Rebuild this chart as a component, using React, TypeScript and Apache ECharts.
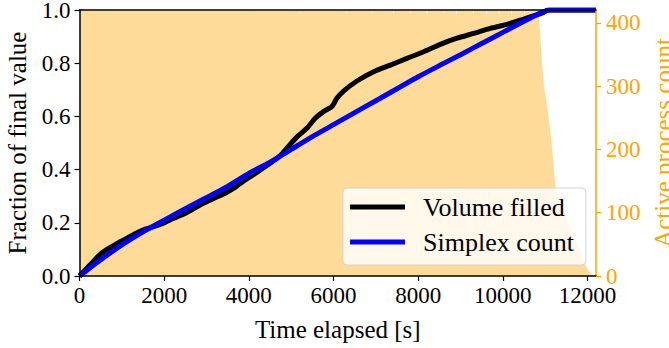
import React, { useEffect, useRef } from "react";
import * as echarts from "echarts";

// ---- Data ----
const xTicks = [0, 2000, 4000, 6000, 8000, 10000, 12000];
const rightTicks = [0, 100, 200, 300, 400];

// Volume filled (black)
const volumeT = [0, 150, 300, 468, 650, 863, 1100, 1300, 1494, 1700, 1967, 2200, 2450, 2676, 2950, 3227, 3450, 3700, 3858, 4100, 4331, 4645, 4800, 4976, 5150, 5370, 5567, 5764, 5961, 6079, 6237, 6553, 6947, 7340, 7734, 8128, 8522, 8917, 9310, 9704, 10098, 10491, 10800, 10965, 11060, 12200];
const volumeV = [0, 0.025, 0.05, 0.079, 0.1, 0.12, 0.14, 0.158, 0.173, 0.183, 0.198, 0.215, 0.232, 0.251, 0.275, 0.296, 0.312, 0.336, 0.355, 0.38, 0.405, 0.44, 0.462, 0.495, 0.525, 0.555, 0.593, 0.618, 0.637, 0.668, 0.695, 0.733, 0.768, 0.793, 0.818, 0.843, 0.871, 0.894, 0.912, 0.931, 0.946, 0.966, 0.982, 0.991, 1.0, 1.0];

// Simplex count (blue)
const simplexT = [0, 350, 700, 1100, 1500, 1900, 2300, 2700, 3100, 3500, 4000, 4500, 5000, 5500, 6000, 6500, 7000, 7500, 8000, 8500, 9000, 9500, 10000, 10500, 10800, 10950, 11100, 12200];
const simplexV = [0, 0.043, 0.084, 0.127, 0.166, 0.201, 0.236, 0.27, 0.303, 0.337, 0.386, 0.428, 0.476, 0.524, 0.569, 0.614, 0.659, 0.704, 0.749, 0.791, 0.832, 0.874, 0.916, 0.958, 0.982, 0.993, 1.0, 1.0];

// Active process count (orange fill)
const procT = [0, 1000, 2000, 3000, 4000, 5000, 5200, 5210, 5220, 6000, 6300, 6310, 6320, 6900, 6910, 6920, 7400, 7410, 7420, 7800, 7810, 7820, 8200, 8210, 8220, 8600, 8610, 8620, 8900, 8910, 8920, 9300, 9310, 9320, 9600, 9610, 9620, 9900, 9910, 9920, 10200, 10210, 10220, 10500, 10510, 10520, 10700, 10710, 10720, 10840, 10870, 10920, 10970, 11030, 11090, 11145, 11200, 11240, 11300, 11400, 11500, 11600, 11700, 11800, 11900, 11990, 12020, 12080, 12130];
const procC = [420, 420, 420, 420, 420, 420, 420, 416, 420, 420, 420, 415, 420, 420, 414, 420, 420, 412, 420, 420, 413, 420, 420, 410, 420, 420, 412, 420, 420, 408, 420, 420, 411, 420, 420, 409, 420, 420, 410, 420, 420, 407, 420, 420, 409, 420, 420, 405, 420, 420, 395, 340, 300, 275, 245, 215, 175, 139, 127, 108, 92, 76, 60, 44, 28, 12, 9, 4, 0];

const FONT = "Liberation Serif";
const ORANGE = "#FFA500";

export default function App() {
  const ref = useRef<HTMLDivElement>(null);

  useEffect(() => {
    if (!ref.current) return;
    const chart = echarts.init(ref.current, null, { renderer: "svg" });
    const volume = volumeT.map((t, i) => [t, volumeV[i]]);
    const simplex = simplexT.map((t, i) => [t, simplexV[i]]);
    const proc = procT.map((t, i) => [t, procC[i]]);

    chart.setOption({
      animation: false,
      textStyle: { fontFamily: FONT },
      grid: {
        left: 79.5,
        top: 10,
        width: 516.5,
        height: 266,
        containLabel: false,
        outerBoundsMode: "none",
      },
      legend: {
        data: ["Volume filled", "Simplex count"],
        orient: "vertical",
        left: 343,
        top: 188,
        padding: [6, 12, 10, 7],
        itemWidth: 55,
        itemHeight: 5,
        itemGap: 9,
        icon: "rect",
        backgroundColor: "rgba(255,255,255,0.8)",
        borderColor: "#d3d3d3",
        borderWidth: 1,
        borderRadius: 4,
        textStyle: { fontFamily: FONT, fontSize: 26, color: "#000", lineHeight: 26, padding: [0, 0, 0, 13] },
        z: 20,
      },
      xAxis: [
        {
          type: "value",
          min: 0,
          max: 12200,
          position: "bottom",
          name: "Time elapsed [s]",
          nameLocation: "middle",
          nameGap: 41,
          nameTextStyle: { fontFamily: FONT, fontSize: 25, color: "#000" },
          axisLine: { show: true, onZero: false, lineStyle: { color: "#000", width: 1.5 } },
          axisTick: { show: true, length: 5, lineStyle: { color: "#000", width: 1.2 }, customValues: xTicks },
          axisLabel: {
            fontFamily: FONT,
            fontSize: 23,
            color: "#000",
            margin: 8,
            customValues: xTicks,
            formatter: (v: number) => String(v),
          },
          splitLine: { show: false },
          z: 10,
        },
        {
          type: "value",
          min: 0,
          max: 12200,
          position: "top",
          axisLine: { show: true, onZero: false, lineStyle: { color: "#000", width: 1.5 } },
          axisTick: { show: false },
          axisLabel: { show: false },
          splitLine: { show: false },
          z: 10,
        },
      ],
      yAxis: [
        {
          type: "value",
          min: 0,
          max: 1,
          interval: 0.2,
          position: "left",
          name: "Fraction of final value",
          nameLocation: "middle",
          nameRotate: 90,
          nameGap: 50,
          nameTextStyle: { fontFamily: FONT, fontSize: 25, color: "#000" },
          axisLine: { show: true, onZero: false, lineStyle: { color: "#000", width: 1.5 } },
          axisTick: { show: true, length: 5, lineStyle: { color: "#000", width: 1.2 } },
          axisLabel: {
            fontFamily: FONT,
            fontSize: 23,
            lineHeight: 18,
            color: "#000",
            margin: 9,
            formatter: (v: number) => v.toFixed(1),
          },
          splitLine: { show: false },
          z: 10,
        },
        {
          type: "value",
          min: 0,
          max: 420.5,
          position: "right",
          name: "Active process count",
          nameLocation: "middle",
          nameRotate: 90,
          nameGap: 54,
          nameTextStyle: { fontFamily: FONT, fontSize: 25, color: ORANGE },
          axisLine: { show: true, onZero: false, lineStyle: { color: ORANGE, width: 1.5 } },
          axisTick: { show: true, length: 5, lineStyle: { color: ORANGE, width: 1.2 }, customValues: rightTicks },
          axisLabel: {
            fontFamily: FONT,
            fontSize: 23,
            lineHeight: 18,
            color: ORANGE,
            margin: 10,
            customValues: rightTicks,
            formatter: (v: number) => String(v),
          },
          splitLine: { show: false },
          z: 10,
        },
      ],
      series: [
        {
          name: "Active process count",
          type: "line",
          xAxisIndex: 0,
          yAxisIndex: 1,
          data: proc,
          symbol: "none",
          lineStyle: { width: 0, color: ORANGE },
          itemStyle: { color: ORANGE },
          areaStyle: { color: "rgba(255,165,0,0.4)", opacity: 1 },
          z: 1,
          silent: true,
        },
        {
          name: "Volume filled",
          type: "line",
          xAxisIndex: 0,
          yAxisIndex: 0,
          data: volume,
          symbol: "none",
          smooth: 0.2,
          lineStyle: { width: 5, color: "#000" },
          itemStyle: { color: "#000" },
          z: 3,
        },
        {
          name: "Simplex count",
          type: "line",
          xAxisIndex: 0,
          yAxisIndex: 0,
          data: simplex,
          symbol: "none",
          smooth: 0.2,
          lineStyle: { width: 5, color: "#0000FF" },
          itemStyle: { color: "#0000FF" },
          z: 4,
        },
      ],
    });
    return () => chart.dispose();
  }, []);

  return (
    <div
      ref={ref}
      style={{ position: "fixed", left: 0, top: 0, width: 669, height: 348, background: "#fff" }}
    />
  );
}
